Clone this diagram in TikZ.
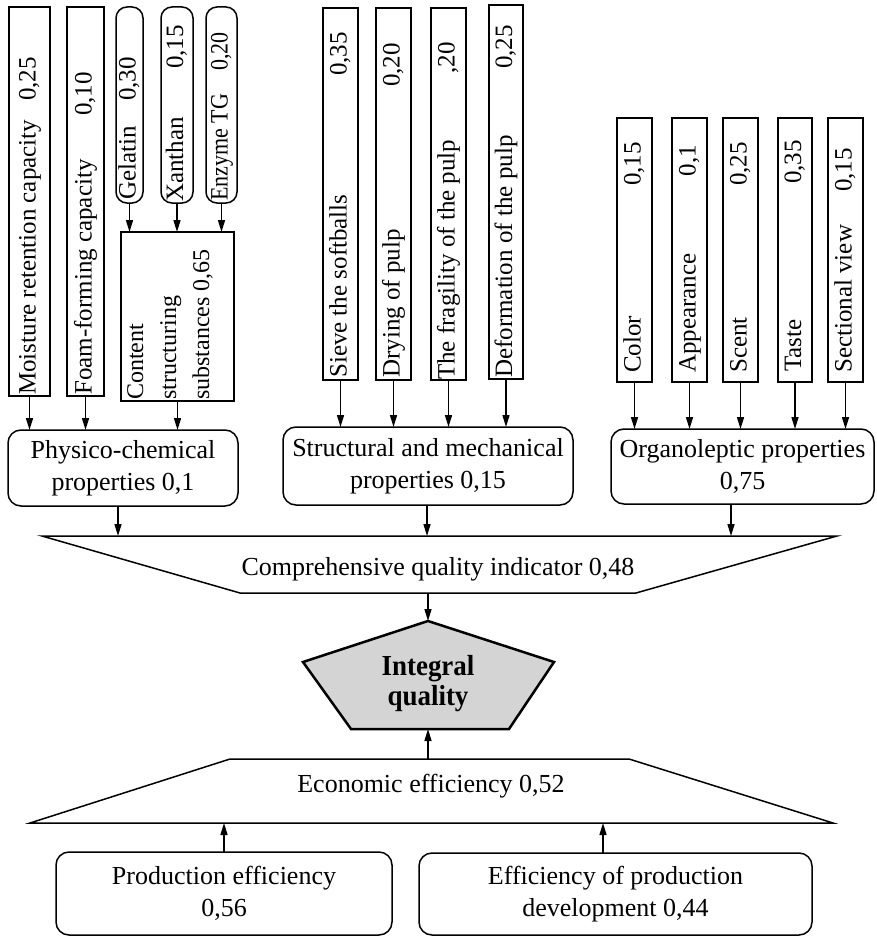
\documentclass[tikz,border=0pt]{standalone}
\usepackage{fontspec}
\setmainfont{Liberation Serif}
\newfontfamily\tallbold[FakeStretch=0.93]{Liberation Serif}
\newfontfamily\narrowserif[FakeStretch=0.88]{Liberation Serif}
\usetikzlibrary{arrows.meta}

% vertical cell: name, x-left, x-right, y-top, y-bottom, label, value, gap below label, gap above value
\newcommand\vcell[9]{%
  \node[cellbox, minimum width={#3-#2}, minimum height={#5-#4}] (#1) at ({(#2+#3)/2},{(#4+#5)/2}) {};
  \node[vtext, anchor=west] (#1-l) at ([yshift=#8pt]#1.south) {#6};
  \node[vtext, anchor=east] (#1-v) at ([yshift=-#9pt]#1.north) {#7};
}

\begin{document}
\begin{tikzpicture}[x=1pt, y=-1pt,
  cell/.style={draw, line width=1.5pt, inner sep=0pt, outer sep=0pt},
  cellbox/.style={cell},
  rbox/.style={draw, line width=1.5pt, rounded corners=13pt, inner sep=0pt, outer sep=0pt,
    align=center, font=\fontsize{26}{32}\selectfont},
  vtext/.style={rotate=90, inner sep=0pt, text height=17pt, text depth=5pt,
    font=\fontsize{25}{30}\selectfont},
  label/.style={inner sep=0pt, font=\fontsize{26}{32}\selectfont},
  outline/.style={draw, line width=1.5pt, line join=miter},
  arr/.style={line width=1.5pt, -{Triangle[length=12pt,width=7pt]}}
]
\useasboundingbox (0,0) rectangle (876,936);

% ---- physico-chemical branch ----
\vcell{mr}{9}{50}{7}{396}{Moisture retention capacity}{0,25}{1}{50}
\vcell{ff}{67}{104}{7}{396}{Foam-forming capacity}{0,10}{1}{65}
\begin{scope}[cellbox/.style={cell, rounded corners=11pt}]
\vcell{gel}{116}{143}{7}{203}{Gelatin}{0,30}{3}{50}
\vcell{xan}{161}{193}{7}{203}{Xanthan}{0,15}{1}{18}
\end{scope}
\begin{scope}[cellbox/.style={cell, rounded corners=11pt},
              vtext/.append style={font=\narrowserif\fontsize{25}{30}\selectfont}]
\vcell{enz}{206}{237}{7}{203}{Enzyme TG}{0,20}{2}{25}
\end{scope}
\node[cell, minimum width=113, minimum height=169] (cs) at (177.5,316.5) {};
\node[rotate=90, anchor=north west, align=left, inner sep=0pt,
      font=\fontsize{24}{33}\selectfont] (cs-t) at ([xshift=6pt,yshift=1pt]cs.south west)
      {Content\\structuring\\substances 0,65};
\node[rbox, minimum width=230, minimum height=76] (phys) at (123,468)
      {Physico-chemical\\properties 0,1};

\foreach \s in {gel,xan,enz} \draw[arr] (\s.south) -- (\s.south |- cs.north);
\foreach \s in {mr,ff,cs} \draw[arr] (\s.south) -- (\s.south |- phys.north);

% ---- structural and mechanical branch ----
\vcell{sv}{323}{358}{8}{380}{Sieve the softballs}{0,35}{2}{24}
\vcell{dr}{376}{411}{8}{380}{Drying of pulp}{0,20}{2}{35}
\vcell{fr}{431}{466}{8}{380}{The fragility of the pulp}{,20}{0}{34}
\vcell{df}{489}{523}{5}{379}{Deformation of the pulp}{0,25}{1}{20}
\node[rbox, minimum width=290, minimum height=78] (str) at (428,466)
      {Structural and mechanical\\properties 0,15};
\foreach \s in {sv,dr,fr,df} \draw[arr] (\s.south) -- (\s.south |- str.north);

% ---- organoleptic branch ----
\vcell{co}{617}{652}{118}{382}{Color}{0,15}{9}{24}
\vcell{ap}{672}{707}{118}{382}{Appearance}{0,1}{9}{27}
\vcell{sc}{723}{758}{118}{382}{Scent}{0,25}{9}{24}
\vcell{ta}{778}{812}{118}{382}{Taste}{0,35}{10}{22}
\vcell{se}{828}{863}{118}{382}{Sectional view}{0,15}{9}{30}
\node[rbox, minimum width=263, minimum height=75] (org) at (742.5,466.5)
      {Organoleptic properties\\0,75};
\foreach \s in {co,ap,sc,ta,se} \draw[arr] (\s.south) -- (\s.south |- org.north);

% ---- comprehensive quality indicator ----
\coordinate (cqi-t) at (438,536);
\coordinate (cqi-b) at (428,593);
\draw[outline] (42,536) -- (837,536) -- (636,593) -- (240,593) -- cycle;
\node[label, anchor=base] (cqi) at (438,575) {Comprehensive quality indicator 0,48};
\draw[arr] ([xshift=-5pt]phys.south) -- ([xshift=-5pt]phys.south |- cqi-t);
\draw[arr] ([xshift=-1pt]str.south) -- ([xshift=-1pt]str.south |- cqi-t);
\draw[arr] ([xshift=-11.5pt]org.south) -- ([xshift=-11.5pt]org.south |- cqi-t);

% ---- integral quality ----
\coordinate (iq-t) at (428,621);
\coordinate (iq-b) at (428,729);
\draw[outline, line width=2.5pt, fill=black!17] (iq-t) -- (554,662) -- (509,729) -- (351,729) -- (303,662) -- cycle;
\node[inner sep=0pt, align=center, anchor=base,
      font=\tallbold\bfseries\fontsize{29}{30}\selectfont] (iq) at (428,705)
      {Integral\\quality};
\draw[arr] (cqi-b) -- (iq-t);

% ---- economic efficiency ----
\coordinate (eco-t) at (428,759);
\coordinate (eco-b) at (428,823);
\draw[outline] (230,759) -- (629,759) -- (833,823) -- (30,823) -- cycle;
\node[label, anchor=base] (eco) at (431,792) {Economic efficiency 0,52};
\draw[arr] (eco-t) -- (iq-b);

\node[rbox, minimum width=336, minimum height=83] (prod) at (224,893.5)
      {Production efficiency\\0,56};
\node[rbox, minimum width=393, minimum height=82] (eff) at (615.5,894)
      {Efficiency of production\\development 0,44};
\draw[arr] (prod.north) -- (prod.north |- eco-b);
\draw[arr] ([xshift=-12.5pt]eff.north) -- ([xshift=-12.5pt]eff.north |- eco-b);

\end{tikzpicture}
\end{document}
